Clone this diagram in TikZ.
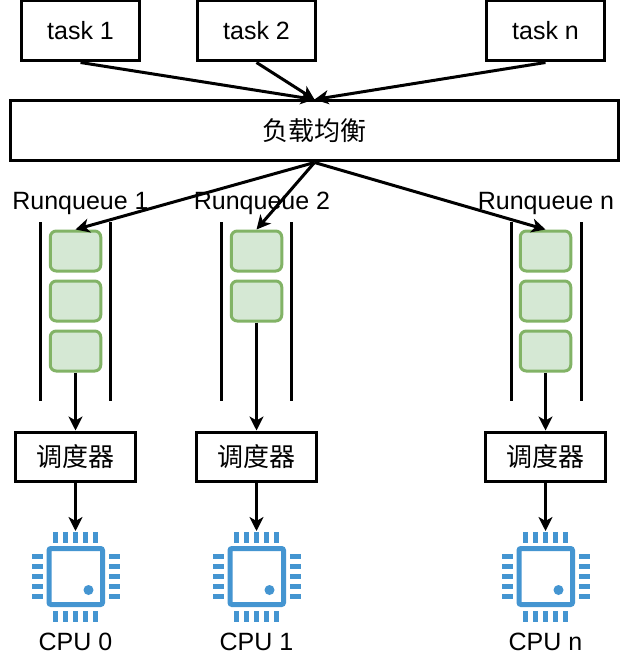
\documentclass[tikz,border=0pt]{standalone}
\usepackage{fontspec}
\setmainfont{Liberation Sans}
\newfontfamily\cjk{Noto Sans CJK SC}
\usetikzlibrary{arrows.meta}
\definecolor{chipblue}{HTML}{4495D1}
\definecolor{qfill}{HTML}{D5E8D4}
\definecolor{qdraw}{HTML}{82B366}
\tikzset{
  x=1pt,y=-1pt,
  plain/.style={draw=black,line width=3pt,fill=white,minimum width=#1,inner sep=0pt,font=\fontsize{25}{25}\selectfont},
  taskbox/.style={plain=118.5pt,minimum height=60pt},
  schedbox/.style={plain=120.5pt,minimum height=49pt},
  lbbox/.style={plain=608pt,minimum height=60pt},
  qitem/.style={draw=qdraw,fill=qfill,line width=3pt,rounded corners=6pt,minimum width=50.5pt,minimum height=40pt,inner sep=0pt},
  rail/.style={draw=black,line width=3pt},
  conn/.style={draw=black,line width=3pt,-{Stealth[length=14pt,width=14pt,inset=4pt]}},
  lbl/.style={inner sep=0pt,font=\fontsize{25}{25}\selectfont},
  pin/.style={fill=chipblue,draw=none},
}
\newcommand{\cjktext}[1]{{\cjk\fontsize{26}{26}\selectfont #1}}
\newcommand{\chipicon}[2]{% centre x, name
  \begin{scope}[shift={(#1,0)}]
    \foreach \d in {-20,-10,0,10,20}{
      \fill[pin] (\d-2.6,532) rectangle (\d+2.6,542.5);
      \fill[pin] (\d-2.6,611) rectangle (\d+2.6,621.5);
      \fill[pin] (-43.5,576.8+\d-2.6) rectangle (-33,576.8+\d+2.6);
      \fill[pin] (33.5,576.8+\d-2.6) rectangle (44,576.8+\d+2.6);
    }
    \draw[draw=chipblue,line width=5pt,rounded corners=2pt,fill=white] (-26.5,548.5) rectangle (27,604.5);
    \fill[chipblue] (13,590) circle (5pt);
    \coordinate (#2) at (0,531);
  \end{scope}
}
\begin{document}
\begin{tikzpicture}
\useasboundingbox (0,0) rectangle (627,660);
\fill[white] (0,0) rectangle (627,660);

% rails
\foreach \x in {40,110,221,291,511,581}{\draw[rail] (\x,222) -- (\x,401);}

% boxes
\node[taskbox] (t1) at (80.5,31) {task 1};
\node[taskbox] (t2) at (256.5,31) {task 2};
\node[taskbox] (tn) at (545.5,31) {task n};
\node[lbbox] (lb) at (314.5,131) {\cjktext{负载均衡}};

\node[qitem] (a1) at (75.5,251) {};
\node[qitem] (a2) at (75.5,301) {};
\node[qitem] (a3) at (75.5,351) {};
\node[qitem] (b1) at (256.5,251) {};
\node[qitem] (b2) at (256.5,301) {};
\node[qitem] (c1) at (545.5,251) {};
\node[qitem] (c2) at (545.5,301) {};
\node[qitem] (c3) at (545.5,351) {};

\node[schedbox] (s0) at (75.5,456.5) {\cjktext{调度器}};
\node[schedbox] (s1) at (256.5,456.5) {\cjktext{调度器}};
\node[schedbox] (sn) at (545.5,456.5) {\cjktext{调度器}};

\node[lbl] (r1) at (80.5,203) {Runqueue 1};
\node[lbl] (r2) at (262,203) {Runqueue 2};
\node[lbl] (rn) at (546,203) {Runqueue n};

\chipicon{75.5}{cpu0}
\chipicon{256.5}{cpu1}
\chipicon{545.5}{cpun}

\node[lbl] (l0) at (75.5,642) {CPU 0};
\node[lbl] (l1) at (256.5,642) {CPU 1};
\node[lbl] (ln) at (545.5,642) {CPU n};

% connectors
\draw[conn] (t1.south) -- (lb.north);
\draw[conn] (t2.south) -- (lb.north);
\draw[conn] (tn.south) -- (lb.north);
\draw[conn] (lb.south) -- (a1.north);
\draw[conn] (lb.south) -- (b1.north);
\draw[conn] (lb.south) -- (c1.north);
\draw[conn] (a3.south) -- (s0.north);
\draw[conn] (b2.south) -- (s1.north);
\draw[conn] (c3.south) -- (sn.north);
\draw[conn] (s0.south) -- (cpu0);
\draw[conn] (s1.south) -- (cpu1);
\draw[conn] (sn.south) -- (cpun);
\end{tikzpicture}
\end{document}
